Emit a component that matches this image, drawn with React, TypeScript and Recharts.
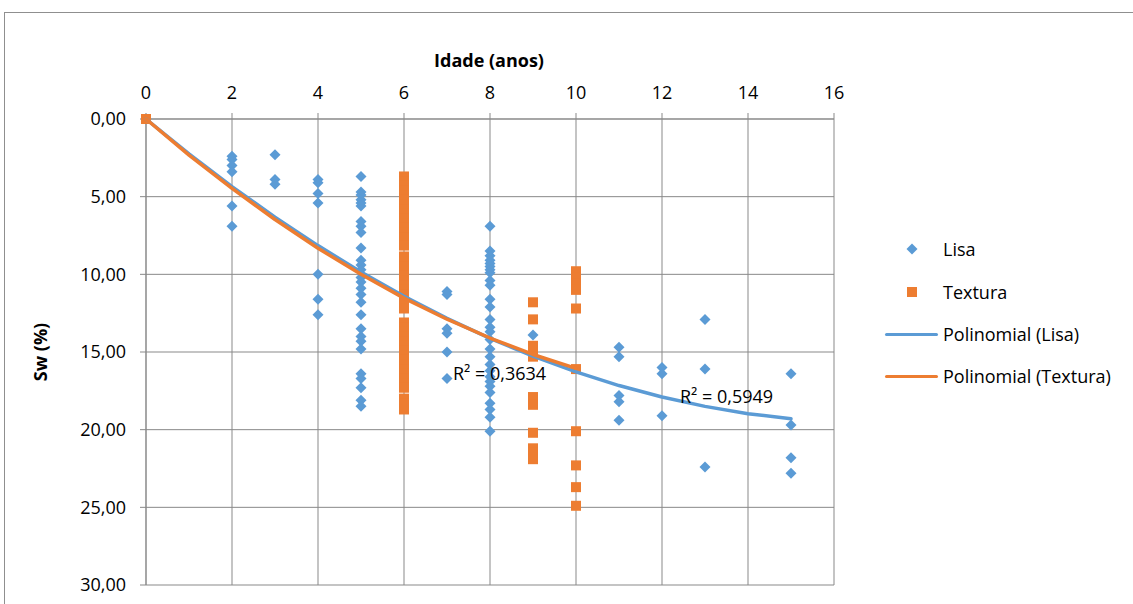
import React from 'react';
import { ScatterChart, Scatter, XAxis, YAxis, CartesianGrid } from 'recharts';

// Idade (anos) -> Sw (%) readings
const lisaByAge: [number, number[]][] = [
  [0, [0]],
  [2, [2.4, 2.6, 3.0, 3.4, 5.6, 6.9]],
  [3, [2.3, 3.9, 4.2]],
  [4, [3.9, 4.1, 4.8, 5.4, 10.0, 11.6, 12.6]],
  [5, [3.7, 4.7, 4.9, 5.2, 5.4, 5.6, 6.6, 6.9, 7.3, 8.3, 9.1, 9.4, 9.7, 10.2, 10.5, 10.9, 11.3, 11.8, 12.6, 13.5, 14.0, 14.3, 14.8, 16.4, 16.7, 17.3, 18.1, 18.5]],
  [7, [11.1, 11.3, 13.5, 13.8, 15.0, 16.7]],
  [8, [6.9, 8.5, 8.8, 9.1, 9.3, 9.5, 9.7, 9.9, 10.4, 10.7, 11.6, 12.1, 12.9, 13.4, 13.7, 14.2, 14.8, 15.3, 15.8, 16.2, 16.6, 16.9, 17.2, 17.6, 18.3, 18.7, 19.2, 20.1]],
  [9, [13.9]],
  [11, [14.7, 15.3, 17.8, 18.2, 19.4]],
  [12, [16.0, 16.4, 19.1]],
  [13, [12.9, 16.1, 22.4]],
  [15, [16.4, 19.7, 21.8, 22.8]],
];

const texturaByAge: [number, number[]][] = [
  [0, [0]],
  [6, [3.7, 4.0, 4.3, 4.6, 4.9, 5.2, 5.5, 5.8, 6.1, 6.4, 6.7, 7.0, 7.3, 7.6, 7.9, 8.15, 8.85, 9.2, 9.5, 9.8, 10.1, 10.4, 10.7, 11.0, 11.3, 11.6, 11.9, 12.2, 13.1, 13.4, 13.7, 14.0, 14.3, 14.6, 14.9, 15.2, 15.5, 15.8, 16.1, 16.4, 16.7, 17.0, 17.3, 18.0, 18.3, 18.7]],
  [9, [11.8, 12.9, 14.6, 15.0, 15.3, 17.9, 18.4, 20.2, 21.2, 21.5, 21.9]],
  [10, [9.8, 10.2, 10.6, 11.0, 12.2, 16.1, 20.1, 22.3, 23.7, 24.9]],
];

const trendLisaX = [0, 1, 2, 3, 4, 5, 6, 7, 8, 9, 10, 11, 12, 13, 14, 15];
const trendLisaY = [0, 2.24, 4.35, 6.32, 8.15, 9.85, 11.41, 12.83, 14.12, 15.27, 16.28, 17.16, 17.9, 18.5, 18.97, 19.3];
const trendTexturaX = [0, 1, 2, 3, 4, 5, 6, 7, 8, 9, 10];
const trendTexturaY = [0, 2.32, 4.47, 6.47, 8.32, 10.0, 11.53, 12.89, 14.1, 15.16, 16.05];

const xTicks = [0, 2, 4, 6, 8, 10, 12, 14, 16];
const yTicks = [0, 5, 10, 15, 20, 25, 30];

const r2Lisa = 'R² = 0,5949';
const r2Textura = 'R² = 0,3634';

const BLUE = '#5B9BD5';
const ORANGE = '#ED7D31';
const GRID = '#898989';
const FONT = '"Open Sans", sans-serif';

const toPoints = (groups: [number, number[]][]) =>
  groups.flatMap(([x, ys]) => ys.map((y) => ({ x, y })));
const toLine = (xs: number[], ys: number[]) => xs.map((x, i) => ({ x, y: ys[i] }));

const lisaData = toPoints(lisaByAge);
const texturaData = toPoints(texturaByAge);
const trendLisa = toLine(trendLisaX, trendLisaY);
const trendTextura = toLine(trendTexturaX, trendTexturaY);

const Diamond = (props: any) => {
  const { cx, cy } = props;
  if (cx == null || cy == null) return <g />;
  const r = 5.5;
  return <polygon points={`${cx},${cy - r} ${cx + r},${cy} ${cx},${cy + r} ${cx - r},${cy}`} fill={BLUE} />;
};
const Square = (props: any) => {
  const { cx, cy } = props;
  if (cx == null || cy == null) return <g />;
  return <rect x={cx - 5} y={cy - 5} width={10} height={10} fill={ORANGE} />;
};
const NoDot = () => <g />;

const fmtY = (v: number) => v.toFixed(2).replace('.', ',');

const legendItems = [
  { label: 'Lisa', kind: 'diamond', y: 249 },
  { label: 'Textura', kind: 'square', y: 292 },
  { label: 'Polinomial (Lisa)', kind: 'lineBlue', y: 334 },
  { label: 'Polinomial (Textura)', kind: 'lineOrange', y: 376 },
];

export default function App() {
  const textStyle: React.CSSProperties = {
    position: 'absolute',
    fontFamily: FONT,
    fontSize: 18,
    color: '#000',
    whiteSpace: 'nowrap',
    lineHeight: '24px',
  };
  return (
    <div style={{ position: 'fixed', left: 0, top: 0, width: 1133, height: 604, overflow: 'hidden', background: '#fff' }}>
      <div style={{ position: 'absolute', left: 4, top: 12, width: 1200, height: 700, border: '1px solid #8f8f8f' }} />
      <div style={{ position: 'absolute', left: 0, top: 0 }}>
        <ScatterChart width={1133} height={604} margin={{ top: 79, right: 299, bottom: 19, left: 86 }}>
          <CartesianGrid stroke={GRID} strokeWidth={1} />
          <XAxis
            type="number"
            dataKey="x"
            orientation="top"
            domain={[0, 16]}
            ticks={xTicks}
            interval={0}
            height={40}
            tickSize={6}
            tickMargin={14}
            axisLine={{ stroke: GRID }}
            tickLine={{ stroke: GRID }}
            tick={{ fill: '#000', fontSize: 18, fontFamily: FONT }}
          />
          <YAxis
            type="number"
            dataKey="y"
            domain={[0, 30]}
            reversed
            ticks={yTicks}
            interval={0}
            width={60}
            tickSize={6}
            tickMargin={14}
            tickFormatter={fmtY}
            axisLine={{ stroke: GRID }}
            tickLine={{ stroke: GRID }}
            tick={{ fill: '#000', fontSize: 18, fontFamily: FONT }}
          />
          <Scatter name="Lisa" data={lisaData} fill={BLUE} shape={Diamond} isAnimationActive={false} />
          <Scatter name="Textura" data={texturaData} fill={ORANGE} shape={Square} isAnimationActive={false} />
          <Scatter
            name="Polinomial (Lisa)"
            data={trendLisa}
            fill={BLUE}
            line={{ stroke: BLUE, strokeWidth: 3.5, strokeLinecap: 'round', strokeLinejoin: 'round' }}
            lineType="joint"
            shape={NoDot}
            isAnimationActive={false}
          />
          <Scatter
            name="Polinomial (Textura)"
            data={trendTextura}
            fill={ORANGE}
            line={{ stroke: ORANGE, strokeWidth: 3.5, strokeLinecap: 'round', strokeLinejoin: 'round' }}
            lineType="joint"
            shape={NoDot}
            isAnimationActive={false}
          />
        </ScatterChart>
      </div>
      <div style={{ ...textStyle, fontWeight: 700, left: 389, width: 200, textAlign: 'center', top: 48 }}>Idade (anos)</div>
      <div
        style={{
          ...textStyle,
          fontWeight: 700,
          left: 40 - 50,
          top: 352 - 12,
          width: 100,
          textAlign: 'center',
          transform: 'rotate(-90deg)',
        }}
      >
        Sw (%)
      </div>
      <div style={{ ...textStyle, left: 453, top: 361 }}>{r2Textura}</div>
      <div style={{ ...textStyle, left: 680, top: 384 }}>{r2Lisa}</div>
      {legendItems.map((it) => (
        <React.Fragment key={it.label}>
          {it.kind === 'diamond' && (
            <svg style={{ position: 'absolute', left: 906, top: it.y - 6 }} width={12} height={12}>
              <polygon points="6,0.5 11.5,6 6,11.5 0.5,6" fill={BLUE} />
            </svg>
          )}
          {it.kind === 'square' && (
            <div style={{ position: 'absolute', left: 907, top: it.y - 5, width: 10, height: 10, background: ORANGE }} />
          )}
          {(it.kind === 'lineBlue' || it.kind === 'lineOrange') && (
            <div
              style={{
                position: 'absolute',
                left: 885,
                top: it.y - 1.5,
                width: 53,
                height: 3,
                borderRadius: 1.5,
                background: it.kind === 'lineBlue' ? BLUE : ORANGE,
              }}
            />
          )}
          <div style={{ ...textStyle, left: 943, top: it.y - 12 }}>{it.label}</div>
        </React.Fragment>
      ))}
    </div>
  );
}
